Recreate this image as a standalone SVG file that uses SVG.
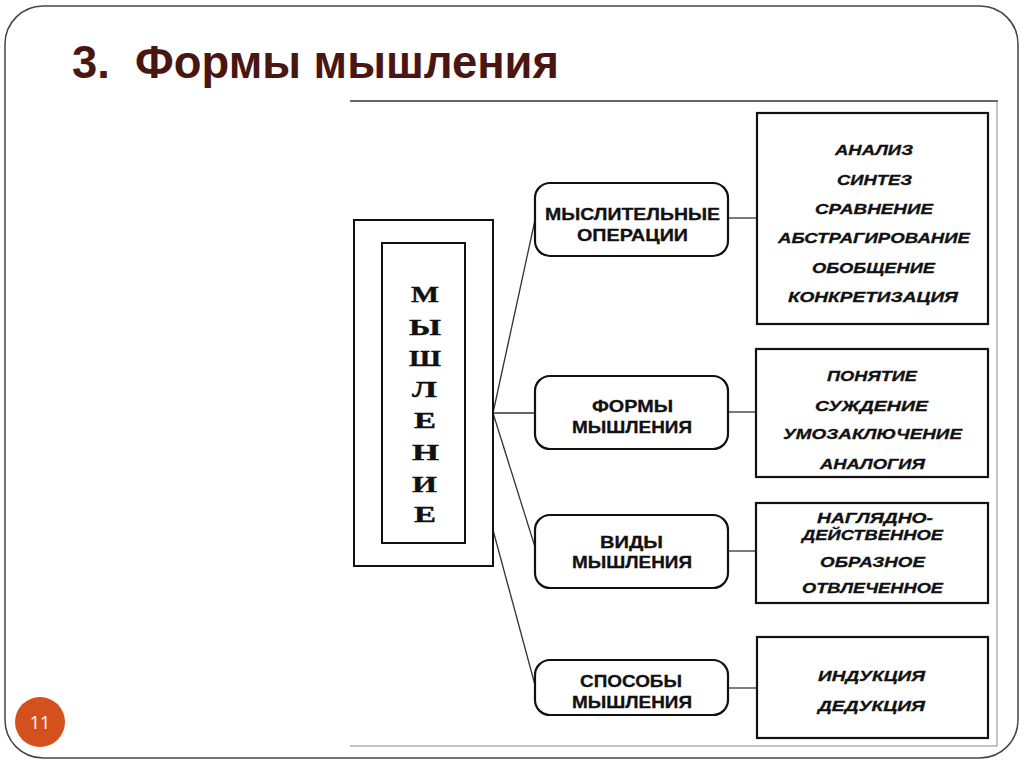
<svg xmlns="http://www.w3.org/2000/svg" width="1024" height="767" viewBox="0 0 1024 767">
<defs>
<style>
.mid{fill:#fff;stroke:#111;stroke-width:2.2}
.rbox{fill:#fff;stroke:#111;stroke-width:2.2}
.mt{font-family:"Liberation Sans",Arial,sans-serif;font-weight:bold;font-size:17px;fill:#111;stroke:#111;stroke-width:0.3}
.rt{font-family:"Liberation Sans",Arial,sans-serif;font-weight:bold;font-style:italic;font-size:15.5px;fill:#111;stroke:#111;stroke-width:0.3}
.vt{font-family:"Liberation Serif","Times New Roman",serif;font-weight:bold;font-size:24px;fill:#111;stroke:#111;stroke-width:0.4}
.conn{stroke:#333;stroke-width:1.3;fill:none}
</style>
</defs>
<rect x="0" y="0" width="1024" height="767" fill="#fff"/>
<rect x="5" y="6" width="1013" height="752" rx="38" ry="38" fill="#fff" stroke="#444" stroke-width="1.5"/>
<text x="72" y="78" style="white-space:pre" font-family="'Liberation Sans',Arial,sans-serif" font-weight="bold" font-size="46" fill="#4a1611" textLength="487" lengthAdjust="spacingAndGlyphs">3.  Формы мышления</text>
<g id="scan-frame">
<line x1="350" y1="101" x2="998" y2="101" stroke="#333" stroke-width="1.6"/>
<line x1="997" y1="101" x2="997" y2="746" stroke="#888" stroke-width="1"/>
<line x1="350" y1="746" x2="997" y2="746" stroke="#888" stroke-width="1"/>
</g>
<g id="connectors">
<line class="conn" x1="493" y1="413" x2="535" y2="220"/>
<line class="conn" x1="493" y1="413" x2="535" y2="413"/>
<line class="conn" x1="493" y1="413" x2="535" y2="547"/>
<line class="conn" x1="493" y1="530" x2="535" y2="685"/>
<line class="conn" x1="728" y1="218" x2="757" y2="218"/>
<line class="conn" x1="728" y1="412" x2="757" y2="412"/>
<line class="conn" x1="728" y1="551" x2="757" y2="551"/>
<line class="conn" x1="728" y1="688" x2="757" y2="688"/>
</g>
<g id="node-myshlenie">
<rect x="354" y="220" width="139" height="346" fill="#fff" stroke="#111" stroke-width="2"/>
<rect x="382" y="243" width="83" height="300" fill="#fff" stroke="#111" stroke-width="2"/>
<text class="vt" x="411" y="302" textLength="28" lengthAdjust="spacingAndGlyphs">М</text>
<text class="vt" x="409" y="335" textLength="32" lengthAdjust="spacingAndGlyphs">Ы</text>
<text class="vt" x="409" y="366" textLength="32" lengthAdjust="spacingAndGlyphs">Ш</text>
<text class="vt" x="412" y="397" textLength="25" lengthAdjust="spacingAndGlyphs">Л</text>
<text class="vt" x="414" y="428" textLength="22" lengthAdjust="spacingAndGlyphs">Е</text>
<text class="vt" x="412" y="460" textLength="27" lengthAdjust="spacingAndGlyphs">Н</text>
<text class="vt" x="412" y="492" textLength="25" lengthAdjust="spacingAndGlyphs">И</text>
<text class="vt" x="414" y="522" textLength="22" lengthAdjust="spacingAndGlyphs">Е</text>
</g>
<g id="node-operations">
<rect class="mid" x="535" y="183" width="193" height="73" rx="15"/>
<text class="mt" x="545" y="220" textLength="175" lengthAdjust="spacingAndGlyphs">МЫСЛИТЕЛЬНЫЕ</text>
<text class="mt" x="577" y="241" textLength="111" lengthAdjust="spacingAndGlyphs">ОПЕРАЦИИ</text>
</g>
<g id="node-forms">
<rect class="mid" x="535" y="376" width="193" height="73" rx="15"/>
<text class="mt" x="592" y="412" textLength="81" lengthAdjust="spacingAndGlyphs">ФОРМЫ</text>
<text class="mt" x="572" y="433" textLength="120" lengthAdjust="spacingAndGlyphs">МЫШЛЕНИЯ</text>
</g>
<g id="node-types">
<rect class="mid" x="535" y="515" width="193" height="73" rx="15"/>
<text class="mt" x="600" y="548" textLength="63" lengthAdjust="spacingAndGlyphs">ВИДЫ</text>
<text class="mt" x="572" y="568" textLength="120" lengthAdjust="spacingAndGlyphs">МЫШЛЕНИЯ</text>
</g>
<g id="node-methods">
<rect class="mid" x="535" y="660" width="193" height="55" rx="15"/>
<text class="mt" x="580" y="687" textLength="102" lengthAdjust="spacingAndGlyphs">СПОСОБЫ</text>
<text class="mt" x="572" y="708" textLength="120" lengthAdjust="spacingAndGlyphs">МЫШЛЕНИЯ</text>
</g>
<g id="node-operations-list">
<rect class="rbox" x="757" y="113" width="231" height="211"/>
<text class="rt" x="835" y="155" textLength="78" lengthAdjust="spacingAndGlyphs">АНАЛИЗ</text>
<text class="rt" x="837" y="185" textLength="75" lengthAdjust="spacingAndGlyphs">СИНТЕЗ</text>
<text class="rt" x="815" y="214" textLength="118" lengthAdjust="spacingAndGlyphs">СРАВНЕНИЕ</text>
<text class="rt" x="778" y="243" textLength="192" lengthAdjust="spacingAndGlyphs">АБСТРАГИРОВАНИЕ</text>
<text class="rt" x="812" y="273" textLength="123" lengthAdjust="spacingAndGlyphs">ОБОБЩЕНИЕ</text>
<text class="rt" x="788" y="302" textLength="170" lengthAdjust="spacingAndGlyphs">КОНКРЕТИЗАЦИЯ</text>
</g>
<g id="node-forms-list">
<rect class="rbox" x="756" y="349" width="232" height="128"/>
<text class="rt" x="827" y="381" textLength="90" lengthAdjust="spacingAndGlyphs">ПОНЯТИЕ</text>
<text class="rt" x="815" y="411" textLength="113" lengthAdjust="spacingAndGlyphs">СУЖДЕНИЕ</text>
<text class="rt" x="783" y="439" textLength="179" lengthAdjust="spacingAndGlyphs">УМОЗАКЛЮЧЕНИЕ</text>
<text class="rt" x="820" y="469" textLength="105" lengthAdjust="spacingAndGlyphs">АНАЛОГИЯ</text>
</g>
<g id="node-types-list">
<rect class="rbox" x="756" y="503" width="232" height="100"/>
<text class="rt" x="817" y="523" textLength="116" lengthAdjust="spacingAndGlyphs">НАГЛЯДНО-</text>
<text class="rt" x="802" y="540" textLength="141" lengthAdjust="spacingAndGlyphs">ДЕЙСТВЕННОЕ</text>
<text class="rt" x="820" y="567" textLength="105" lengthAdjust="spacingAndGlyphs">ОБРАЗНОЕ</text>
<text class="rt" x="802" y="593" textLength="141" lengthAdjust="spacingAndGlyphs">ОТВЛЕЧЕННОЕ</text>
</g>
<g id="node-methods-list">
<rect class="rbox" x="757" y="637" width="231" height="101"/>
<text class="rt" x="818" y="681" textLength="107" lengthAdjust="spacingAndGlyphs">ИНДУКЦИЯ</text>
<text class="rt" x="818" y="711" textLength="107" lengthAdjust="spacingAndGlyphs">ДЕДУКЦИЯ</text>
</g>
<g id="page-number">
<circle cx="40" cy="722" r="25" fill="#d4501c"/>
<text x="40" y="728.5" text-anchor="middle" font-family="'Open Sans',sans-serif" font-size="18" fill="#fff">11</text>
</g>
</svg>
